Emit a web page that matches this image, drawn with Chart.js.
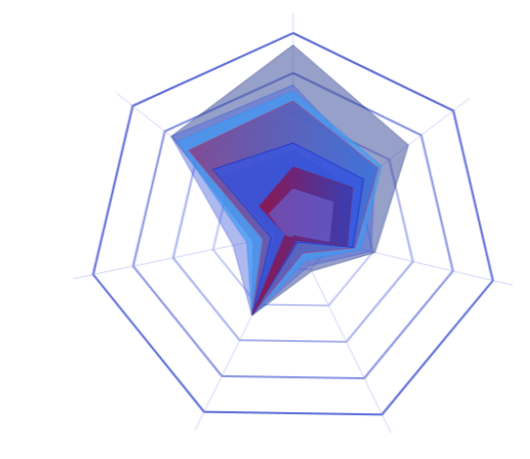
<!DOCTYPE html>
<html>
<head>
<meta charset="utf-8">
<script src="https://cdn.jsdelivr.net/npm/chart.js@4/dist/chart.umd.min.js"></script>
<style>
  html, body { margin: 0; padding: 0; background: #fff; }
  #wrap { width: 530px; height: 459px; }
  /* the reference is slightly stretched and sheared */
  #chart { transform-origin: 293px 233px; transform: matrix(1.025, 0.0155, 0, 1, 0, 0); }
</style>
</head>
<body>
<div id="wrap"><canvas id="chart" width="530" height="459"></canvas></div>
<script>
// seven unnamed axes, clockwise from the top
const categories = ["A", "B", "C", "D", "E", "F", "G"];

// series, drawn from the back to the front
const slate     = [94, 72, 41, 21, 46, 20, 76];
const midBlue   = [74, 51, 39, 18, 46, 30, 76];
const lightBlue = [71, 55, 34, 15, 46, 23, 72];
const purple    = [66, 53, 31, 11, 46, 15, 65];
const navy      = [41, 37, 26, 4, 46, 9, 44];
const royal     = [45, 44, 30, 5, 46, 11, 50];
const crimson   = [33, 37, 27, 4, 46, 4, 21];
const violet    = [22, 25, 18, 1, 2, 4, 15];

const tickMax = 100;
const axisMax = 110;
const tickStep = 20;

// horizontal gradient across the chart, spanning from -left to +right units
function hGradient(from, to, left, right) {
  return (ctx) => {
    const s = ctx.chart.scales.r;
    if (!s || !s.drawingArea) return from;
    const x0 = s.xCenter - s.getDistanceFromCenterForValue(left);
    const x1 = s.xCenter + s.getDistanceFromCenterForValue(right);
    const g = ctx.chart.ctx.createLinearGradient(x0, 0, x1, 0);
    g.addColorStop(0, from);
    g.addColorStop(1, to);
    return g;
  };
}

const ringColors = ["rgba(0,0,0,0)", "rgba(150,160,235,0.45)", "rgba(140,150,232,0.55)",
  "rgba(130,142,228,0.7)", "rgba(112,126,222,0.85)", "rgba(88,104,214,1)"];

const series = [
  { data: slate, backgroundColor: "rgba(45,65,145,0.5)", borderColor: "rgba(45,65,145,0.55)" },
  { data: midBlue, backgroundColor: "rgba(75,100,220,0.45)", borderColor: "rgba(60,85,210,0.5)" },
  { data: lightBlue, backgroundColor: "rgba(65,155,245,0.7)", borderColor: "rgba(60,140,240,0.8)" },
  { data: purple, backgroundColor: hGradient("rgba(165,25,85,0.6)", "rgba(45,85,205,0.5)", 55, 45),
    borderColor: "rgba(190,40,90,0.6)" },
  { data: navy, backgroundColor: "rgba(45,55,160,0.35)", borderColor: "rgba(45,55,160,0.4)" },
  { data: royal, backgroundColor: "rgba(55,85,225,0.75)", borderColor: "rgba(35,55,200,1)" },
  { data: crimson, backgroundColor: hGradient("rgba(150,15,65,0.85)", "rgba(55,60,175,0.85)", 14, 30),
    borderColor: "rgba(130,20,70,0.6)" },
  { data: violet, backgroundColor: "rgba(105,95,205,0.7)", borderColor: "rgba(105,95,205,0.7)" },
];

new Chart(document.getElementById("chart"), {
  type: "radar",
  data: {
    labels: categories,
    // first dataset is painted last, so reverse to keep slate at the back
    datasets: series.slice().reverse().map((s) => ({
      label: "",
      data: s.data,
      fill: true,
      backgroundColor: s.backgroundColor,
      borderColor: s.borderColor,
      borderWidth: 1,
      pointRadius: 0,
      pointHoverRadius: 0,
    })),
  },
  options: {
    responsive: false,
    animation: false,
    devicePixelRatio: 1,
    layout: { padding: { left: 73, right: 17, top: 13, bottom: 6 } },
    plugins: { legend: { display: false }, tooltip: { enabled: false } },
    scales: {
      r: {
        min: 0,
        max: axisMax,
        afterBuildTicks: (s) => { s.ticks = s.ticks.filter((t) => t.value <= tickMax); },
        ticks: { display: false, stepSize: tickStep },
        pointLabels: { display: false },
        angleLines: { color: "rgba(150,160,235,0.45)", lineWidth: 1 },
        grid: {
          color: (c) => ringColors[c.index] || ringColors[5],
          lineWidth: 2,
        },
      },
    },
  },
});
</script>
</body>
</html>
